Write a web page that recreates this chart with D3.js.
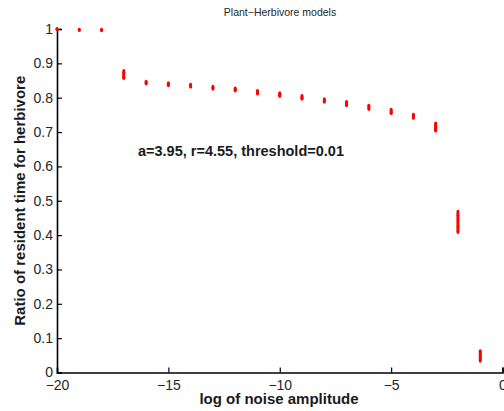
<!DOCTYPE html>
<html>
<head>
<meta charset="utf-8">
<script src="https://cdn.jsdelivr.net/npm/d3@7"></script>
<style>
body { margin: 0; background: #fff; }
text { font-family: "Liberation Sans", Arial, sans-serif; }
</style>
</head>
<body>
<div id="chart"></div>
<script>
var width = 504;
var height = 411;

// log of noise amplitude for each set of runs
var noiseLog = [-20, -19, -18, -17, -16, -15, -14, -13, -12, -11, -10, -9, -8, -7, -6, -5, -4, -3, -2, -1];

// ratio of resident time (several runs per noise level)
var ratioRuns = [
    [1.0, 0.999],
    [0.998, 0.997],
    [0.998, 0.996],
    [0.878, 0.874, 0.870, 0.866, 0.862, 0.859, 0.857],
    [0.847, 0.844, 0.841],
    [0.842, 0.839, 0.836],
    [0.838, 0.835, 0.832],
    [0.832, 0.829, 0.826],
    [0.827, 0.824, 0.821],
    [0.820, 0.817, 0.814, 0.812],
    [0.813, 0.810, 0.807, 0.805],
    [0.805, 0.802, 0.799, 0.797],
    [0.796, 0.793, 0.790, 0.788],
    [0.788, 0.785, 0.781, 0.778],
    [0.777, 0.774, 0.770, 0.767],
    [0.765, 0.762, 0.758, 0.755],
    [0.751, 0.748, 0.744, 0.741],
    [0.725, 0.721, 0.717, 0.713, 0.710, 0.707, 0.704],
    [0.468, 0.463, 0.458, 0.453, 0.448, 0.443, 0.438, 0.433, 0.428, 0.423, 0.418, 0.413, 0.409],
    [0.062, 0.058, 0.054, 0.050, 0.046, 0.042, 0.038, 0.034]
];

var xTicks = [-20, -15, -10, -5, 0];
var yTicks = [0, 0.1, 0.2, 0.3, 0.4, 0.5, 0.6, 0.7, 0.8, 0.9, 1];

var mLeft = 57, mRight = 502.5, mTop = 29, mBottom = 372.5;

var x = d3.scaleLinear().domain([-20, 0]).range([mLeft, mRight]);
var y = d3.scaleLinear().domain([0, 1]).range([mBottom, mTop]);

var svg = d3.select("#chart").append("svg")
    .attr("width", width)
    .attr("height", height);

// points
var pts = [];
noiseLog.forEach(function(n, i) {
    ratioRuns[i].forEach(function(v) {
        pts.push({ x: n, y: v });
    });
});

var fmt = function(d) { return d3.format("")(d).replace("-", "\u2212"); };

var xAxis = svg.append("g")
    .attr("transform", "translate(0," + mBottom + ")")
    .call(d3.axisBottom(x).tickValues(xTicks).tickSize(-5).tickPadding(7.5).tickFormat(fmt));

var yAxis = svg.append("g")
    .attr("transform", "translate(" + mLeft + ",0)")
    .call(d3.axisLeft(y).tickValues(yTicks).tickSize(-5).tickPadding(4).tickFormat(function(d) { return d3.format("")(d); }));

[xAxis, yAxis].forEach(function(g) {
    g.select(".domain").attr("stroke", "#000").attr("stroke-width", 1.6);
    g.selectAll(".tick line").attr("stroke", "#000").attr("stroke-width", 1.2);
    g.selectAll(".tick text")
        .attr("fill", "#262626")
        .attr("font-size", "14px")
        .attr("font-family", "Liberation Sans, Arial, sans-serif");
});

svg.append("g")
    .selectAll("ellipse")
    .data(pts)
    .enter()
    .append("ellipse")
    .attr("cx", function(d) { return x(d.x); })
    .attr("cy", function(d) { return y(d.y); })
    .attr("rx", 1.5)
    .attr("ry", 1.9)
    .attr("fill", "#ff0000");

svg.append("text")
    .attr("x", 280)
    .attr("y", 16)
    .attr("text-anchor", "middle")
    .attr("font-size", "10.5px")
    .attr("fill", "#262626")
    .text("Plant\u2212Herbivore models");

svg.append("text")
    .attr("x", 279)
    .attr("y", 404)
    .attr("text-anchor", "middle")
    .attr("font-size", "15px")
    .attr("font-weight", "bold")
    .attr("fill", "#1a1a1a")
    .text("log of noise amplitude");

svg.append("text")
    .attr("transform", "translate(24.5," + (mTop + mBottom) / 2 + ") rotate(-90)")
    .attr("text-anchor", "middle")
    .attr("font-size", "15px")
    .attr("font-weight", "bold")
    .attr("fill", "#1a1a1a")
    .text("Ratio of resident time for herbivore");

svg.append("text")
    .attr("x", 138)
    .attr("y", 155.5)
    .attr("font-size", "14.5px")
    .attr("font-weight", "bold")
    .attr("fill", "#1a1a1a")
    .text("a=3.95, r=4.55, threshold=0.01");
</script>
</body>
</html>
